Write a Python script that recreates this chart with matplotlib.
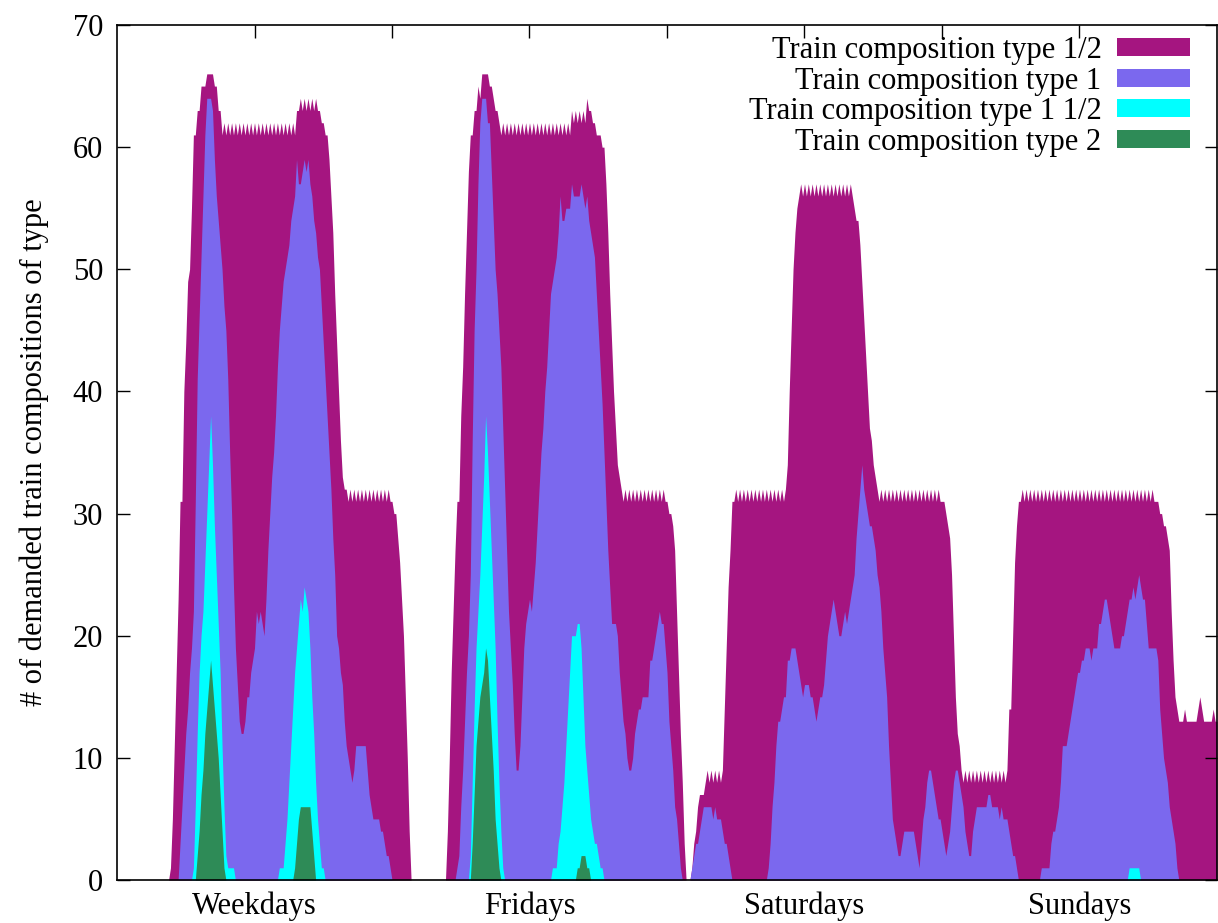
import numpy as np
import matplotlib
matplotlib.use("Agg")
import matplotlib.pyplot as plt
from matplotlib.patches import Patch

# Demand sampled every 10 minutes, 144 samples per day block (12 per row = 2 h)
STEP_MIN = 10

day_names = ["Weekdays", "Fridays", "Saturdays", "Sundays"]
series_labels = [
    "Train composition type 1/2",
    "Train composition type 1",
    "Train composition type 1 1/2",
    "Train composition type 2",
]
series_colors = ["#a51580", "#7b68ee", "#00ffff", "#2e8b57"]

# ---- Train composition type 1/2 ----
half_weekdays = [
    0, 0, 0, 0, 0, 0, 0, 0, 0, 0, 0, 0,
    0, 0, 0, 0, 0, 0, 0, 0, 0, 0, 0, 0,
    0, 0, 0, 0, 1, 5, 11, 17, 23, 31, 31, 40,
    44, 49, 50, 55, 61, 61, 63, 63, 65, 65, 65, 66,
    66, 66, 66, 65, 65, 63, 63, 61, 62, 61, 62, 61,
    62, 61, 62, 61, 62, 61, 62, 61, 62, 61, 62, 61,
    62, 61, 62, 61, 62, 61, 62, 61, 62, 61, 62, 61,
    62, 61, 62, 61, 62, 61, 62, 61, 62, 61, 63, 63,
    64, 63, 64, 63, 64, 63, 64, 63, 64, 63, 63, 62,
    62, 61, 61, 59, 56, 53, 48, 44, 40, 36, 33, 32,
    32, 31, 32, 31, 32, 31, 32, 31, 32, 31, 32, 31,
    32, 31, 32, 31, 32, 31, 32, 31, 32, 31, 32, 31,
]
half_fridays = [
    31, 30, 30, 28, 26, 23, 20, 15, 10, 4, 0, 0,
    0, 0, 0, 0, 0, 0, 0, 0, 0, 0, 0, 0,
    0, 0, 0, 0, 0, 4, 10, 17, 22, 27, 31, 31,
    38, 42, 48, 53, 58, 61, 61, 63, 63, 65, 64, 66,
    66, 66, 66, 65, 65, 64, 63, 63, 62, 61, 62, 61,
    62, 61, 62, 61, 62, 61, 62, 61, 62, 61, 62, 61,
    62, 61, 62, 61, 62, 61, 62, 61, 62, 61, 62, 61,
    62, 61, 62, 61, 62, 61, 62, 61, 62, 61, 63, 62,
    63, 62, 63, 62, 63, 62, 64, 63, 63, 62, 62, 61,
    61, 61, 60, 60, 57, 53, 48, 44, 40, 37, 34, 33,
    32, 31, 32, 31, 32, 31, 32, 31, 32, 31, 32, 31,
    32, 31, 32, 31, 32, 31, 32, 31, 32, 31, 32, 31,
]
half_saturdays = [
    31, 30, 30, 29, 27, 22, 17, 12, 8, 3, 0, 0,
    0, 1, 3, 4, 6, 7, 7, 7, 8, 9, 8, 9,
    8, 9, 8, 9, 8, 9, 14, 19, 24, 27, 31, 31,
    32, 31, 32, 31, 32, 31, 32, 31, 32, 31, 32, 31,
    32, 31, 32, 31, 32, 31, 32, 31, 32, 31, 32, 31,
    32, 31, 32, 34, 40, 45, 50, 53, 55, 56, 57, 56,
    57, 56, 57, 56, 57, 56, 57, 56, 57, 56, 57, 56,
    57, 56, 57, 56, 57, 56, 57, 56, 57, 56, 57, 56,
    57, 56, 55, 54, 54, 52, 49, 46, 43, 40, 37, 36,
    34, 33, 32, 31, 32, 31, 32, 31, 32, 31, 32, 31,
    32, 31, 32, 31, 32, 31, 32, 31, 32, 31, 32, 31,
    32, 31, 32, 31, 32, 31, 32, 31, 32, 31, 32, 31,
]
half_sundays = [
    31, 31, 30, 29, 28, 25, 20, 15, 12, 11, 9, 8,
    9, 8, 9, 8, 9, 8, 9, 8, 9, 8, 9, 8,
    9, 8, 9, 8, 9, 8, 9, 8, 9, 8, 9, 14,
    14, 20, 26, 29, 31, 31, 32, 31, 32, 31, 32, 31,
    32, 31, 32, 31, 32, 31, 32, 31, 32, 31, 32, 31,
    32, 31, 32, 31, 32, 31, 32, 31, 32, 31, 32, 31,
    32, 31, 32, 31, 32, 31, 32, 31, 32, 31, 32, 31,
    32, 31, 32, 31, 32, 31, 32, 31, 32, 31, 32, 31,
    32, 31, 32, 31, 32, 31, 32, 31, 32, 31, 32, 31,
    32, 31, 32, 31, 31, 31, 30, 30, 29, 29, 28, 27,
    22, 18, 15, 14, 13, 13, 13, 14, 13, 13, 13, 13,
    13, 13, 14, 15, 14, 13, 13, 13, 13, 13, 14, 13,
    13,
]

# ---- Train composition type 1 ----
one_weekdays = [
    0, 0, 0, 0, 0, 0, 0, 0, 0, 0, 0, 0,
    0, 0, 0, 0, 0, 0, 0, 0, 0, 0, 0, 0,
    0, 0, 0, 0, 0, 0, 0, 0, 0, 3, 6, 9,
    12, 14, 17, 19, 22, 31, 41, 46, 51, 56, 61, 64,
    64, 64, 63, 59, 56, 54, 52, 50, 47, 45, 41, 35,
    30, 24, 19, 16, 13, 12, 12, 13, 15, 15, 17, 18,
    19, 22, 21, 22, 21, 20, 23, 27, 30, 33, 35, 38,
    42, 45, 47, 49, 50, 51, 52, 54, 55, 56, 59, 57,
    57, 58, 59, 58, 59, 57, 56, 54, 53, 51, 50, 47,
    44, 41, 38, 35, 32, 28, 25, 20, 19, 17, 16, 13,
    11, 10, 9, 8, 9, 11, 11, 11, 11, 11, 11, 9,
    7, 6, 5, 5, 5, 5, 4, 4, 3, 2, 2, 1,
]
one_fridays = [
    0, 0, 0, 0, 0, 0, 0, 0, 0, 0, 0, 0,
    0, 0, 0, 0, 0, 0, 0, 0, 0, 0, 0, 0,
    0, 0, 0, 0, 0, 0, 0, 0, 0, 0, 1, 2,
    6, 9, 13, 17, 20, 25, 36, 45, 50, 57, 62, 64,
    64, 64, 62, 62, 58, 54, 50, 48, 45, 42, 37, 32,
    27, 22, 19, 16, 12, 9, 9, 11, 15, 19, 21, 22,
    23, 22, 24, 26, 29, 32, 35, 37, 40, 42, 45, 48,
    49, 50, 51, 53, 56, 54, 54, 55, 55, 55, 57, 56,
    56, 56, 56, 57, 56, 55, 56, 54, 53, 52, 51, 48,
    45, 42, 39, 35, 31, 27, 24, 21, 21, 21, 20, 17,
    15, 13, 12, 10, 9, 9, 10, 12, 13, 14, 14, 15,
    15, 15, 15, 18, 18, 19, 20, 21, 22, 21, 21, 19,
]
one_saturdays = [
    17, 13, 11, 9, 6, 5, 3, 1, 0, 0, 0, 0,
    0, 1, 2, 3, 3, 4, 5, 6, 6, 6, 6, 6,
    5, 6, 5, 5, 5, 4, 3, 3, 2, 1, 0, 0,
    0, 0, 0, 0, 0, 0, 0, 0, 0, 0, 0, 0,
    0, 0, 0, 0, 0, 1, 3, 6, 8, 11, 13, 13,
    14, 15, 15, 18, 18, 19, 19, 19, 18, 17, 16, 15,
    16, 16, 16, 15, 15, 14, 13, 14, 15, 15, 16, 18,
    20, 21, 22, 23, 22, 21, 20, 20, 21, 22, 21, 22,
    23, 24, 25, 28, 30, 32, 34, 32, 31, 30, 29, 29,
    28, 27, 25, 24, 22, 19, 17, 15, 11, 8, 5, 4,
    3, 2, 2, 3, 4, 4, 4, 4, 4, 4, 3, 2,
    1, 3, 5, 6, 8, 9, 9, 8, 7, 6, 5, 5,
]
one_sundays = [
    4, 3, 2, 3, 4, 6, 8, 9, 9, 8, 7, 6,
    4, 3, 2, 2, 4, 5, 6, 6, 6, 6, 6, 6,
    7, 7, 6, 6, 6, 6, 5, 6, 5, 5, 5, 4,
    3, 2, 2, 1, 0, 0, 0, 0, 0, 0, 0, 0,
    0, 0, 0, 0, 1, 1, 1, 1, 1, 3, 4, 4,
    5, 6, 8, 11, 11, 11, 12, 13, 14, 15, 16, 17,
    17, 18, 18, 19, 19, 19, 18, 19, 19, 19, 21, 21,
    22, 23, 23, 22, 21, 20, 19, 19, 19, 19, 20, 20,
    21, 22, 23, 23, 24, 23, 24, 25, 24, 23, 23, 21,
    19, 19, 19, 19, 19, 18, 14, 12, 10, 9, 8, 6,
    5, 4, 3, 1, 0, 0, 0, 0, 0, 0, 0, 0,
    0, 0, 0, 0, 0, 0, 0, 0, 0, 0, 0, 0,
    0,
]

# ---- Train composition type 1 1/2 ----
one_half_weekdays = [
    0, 0, 0, 0, 0, 0, 0, 0, 0, 0, 0, 0,
    0, 0, 0, 0, 0, 0, 0, 0, 0, 0, 0, 0,
    0, 0, 0, 0, 0, 0, 0, 0, 0, 0, 0, 0,
    0, 0, 0, 0, 1, 6, 12, 17, 20, 22, 26, 30,
    34, 38, 34, 29, 25, 21, 17, 11, 6, 2, 1, 1,
    1, 1, 0, 0, 0, 0, 0, 0, 0, 0, 0, 0,
    0, 0, 0, 0, 0, 0, 0, 0, 0, 0, 0, 0,
    0, 1, 1, 1, 3, 5, 8, 11, 14, 17, 19, 21,
    23, 22, 24, 23, 22, 19, 15, 12, 8, 5, 3, 1,
    1, 0, 0, 0, 0, 0, 0, 0, 0, 0, 0, 0,
    0, 0, 0, 0, 0, 0, 0, 0, 0, 0, 0, 0,
    0, 0, 0, 0, 0, 0, 0, 0, 0, 0, 0, 0,
]
one_half_fridays = [
    0, 0, 0, 0, 0, 0, 0, 0, 0, 0, 0, 0,
    0, 0, 0, 0, 0, 0, 0, 0, 0, 0, 0, 0,
    0, 0, 0, 0, 0, 0, 0, 0, 0, 0, 0, 0,
    0, 0, 0, 0, 0, 2, 8, 14, 19, 22, 25, 29,
    33, 38, 35, 31, 27, 23, 19, 13, 8, 4, 1, 0,
    0, 0, 0, 0, 0, 0, 0, 0, 0, 0, 0, 0,
    0, 0, 0, 0, 0, 0, 0, 0, 0, 0, 0, 0,
    1, 1, 1, 3, 4, 6, 8, 11, 14, 17, 20, 20,
    20, 21, 21, 19, 15, 11, 9, 7, 5, 4, 3, 3,
    2, 1, 1, 0, 0, 0, 0, 0, 0, 0, 0, 0,
    0, 0, 0, 0, 0, 0, 0, 0, 0, 0, 0, 0,
    0, 0, 0, 0, 0, 0, 0, 0, 0, 0, 0, 0,
]
one_half_saturdays = [0] * 144
one_half_sundays = [
    0, 0, 0, 0, 0, 0, 0, 0, 0, 0, 0, 0,
    0, 0, 0, 0, 0, 0, 0, 0, 0, 0, 0, 0,
    0, 0, 0, 0, 0, 0, 0, 0, 0, 0, 0, 0,
    0, 0, 0, 0, 0, 0, 0, 0, 0, 0, 0, 0,
    0, 0, 0, 0, 0, 0, 0, 0, 0, 0, 0, 0,
    0, 0, 0, 0, 0, 0, 0, 0, 0, 0, 0, 0,
    0, 0, 0, 0, 0, 0, 0, 0, 0, 0, 0, 0,
    0, 0, 0, 0, 0, 0, 0, 0, 0, 0, 0, 0,
    0, 0, 1, 1, 1, 1, 1, 1, 0, 0, 0, 0,
    0, 0, 0, 0, 0, 0, 0, 0, 0, 0, 0, 0,
    0, 0, 0, 0, 0, 0, 0, 0, 0, 0, 0, 0,
    0, 0, 0, 0, 0, 0, 0, 0, 0, 0, 0, 0,
    0,
]

# ---- Train composition type 2 ----
two_weekdays = [
    0, 0, 0, 0, 0, 0, 0, 0, 0, 0, 0, 0,
    0, 0, 0, 0, 0, 0, 0, 0, 0, 0, 0, 0,
    0, 0, 0, 0, 0, 0, 0, 0, 0, 0, 0, 0,
    0, 0, 0, 0, 0, 0, 2, 4, 7, 9, 12, 14,
    16, 18, 16, 14, 12, 10, 7, 4, 1, 0, 0, 0,
    0, 0, 0, 0, 0, 0, 0, 0, 0, 0, 0, 0,
    0, 0, 0, 0, 0, 0, 0, 0, 0, 0, 0, 0,
    0, 0, 0, 0, 0, 0, 0, 0, 0, 1, 3, 5,
    6, 6, 6, 6, 6, 6, 4, 2, 0, 0, 0, 0,
    0, 0, 0, 0, 0, 0, 0, 0, 0, 0, 0, 0,
    0, 0, 0, 0, 0, 0, 0, 0, 0, 0, 0, 0,
    0, 0, 0, 0, 0, 0, 0, 0, 0, 0, 0, 0,
]
two_fridays = [
    0, 0, 0, 0, 0, 0, 0, 0, 0, 0, 0, 0,
    0, 0, 0, 0, 0, 0, 0, 0, 0, 0, 0, 0,
    0, 0, 0, 0, 0, 0, 0, 0, 0, 0, 0, 0,
    0, 0, 0, 0, 0, 0, 3, 7, 11, 13, 15, 16,
    17, 19, 18, 15, 12, 9, 5, 3, 1, 0, 0, 0,
    0, 0, 0, 0, 0, 0, 0, 0, 0, 0, 0, 0,
    0, 0, 0, 0, 0, 0, 0, 0, 0, 0, 0, 0,
    0, 0, 0, 0, 0, 0, 0, 0, 0, 0, 0, 0,
    0, 1, 1, 2, 2, 2, 1, 1, 0, 0, 0, 0,
    0, 0, 0, 0, 0, 0, 0, 0, 0, 0, 0, 0,
    0, 0, 0, 0, 0, 0, 0, 0, 0, 0, 0, 0,
    0, 0, 0, 0, 0, 0, 0, 0, 0, 0, 0, 0,
]
two_saturdays = [0] * 144
two_sundays = [0] * 145

series = [
    half_weekdays + half_fridays + half_saturdays + half_sundays,
    one_weekdays + one_fridays + one_saturdays + one_sundays,
    one_half_weekdays + one_half_fridays + one_half_saturdays + one_half_sundays,
    two_weekdays + two_fridays + two_saturdays + two_sundays,
]

hours = np.arange(len(series[0])) * STEP_MIN / 60.0

plt.rcParams["font.family"] = ["Liberation Serif", "DejaVu Serif"]
FS = 22

W, H = 1218, 923
fig = plt.figure(figsize=(W / 100, H / 100), dpi=100)
ax = fig.add_axes([117 / W, 43 / H, 1100 / W, 855 / H])

for vals, color in zip(series, series_colors):
    ax.fill_between(hours, 0, np.asarray(vals, dtype=float), color=color,
                    linewidth=0, antialiased=True)

ax.set_xlim(0, 96)
ax.set_ylim(0, 70)

ax.set_xticks([12, 36, 60, 84])
ax.set_xticklabels(day_names)
ax.set_xticks([24, 48, 72], minor=True)
ax.tick_params(axis="x", which="both", bottom=False, top=True,
               direction="in", length=9, width=1, pad=8, labelsize=FS)
ax.set_yticks(range(0, 71, 10))
ax.tick_params(axis="y", left=True, right=True, direction="in",
               length=9, width=1, pad=10, labelsize=FS)
for sp in ax.spines.values():
    sp.set_linewidth(1.2)
    sp.set_color("black")

ax.set_ylabel("# of demanded train compositions of type", fontsize=FS,
              labelpad=17)

handles = [Patch(facecolor=c, edgecolor="none") for c in series_colors]
ax.legend(handles, series_labels, loc="upper right",
          bbox_to_anchor=(1190 / W, (H - 36) / H),
          bbox_transform=fig.transFigure, frameon=False, markerfirst=False,
          fontsize=FS, handlelength=2.4, handleheight=0.55,
          handletextpad=0.5, labelspacing=0.05, borderaxespad=0,
          borderpad=0)

fig.savefig("out.png", dpi=100)
